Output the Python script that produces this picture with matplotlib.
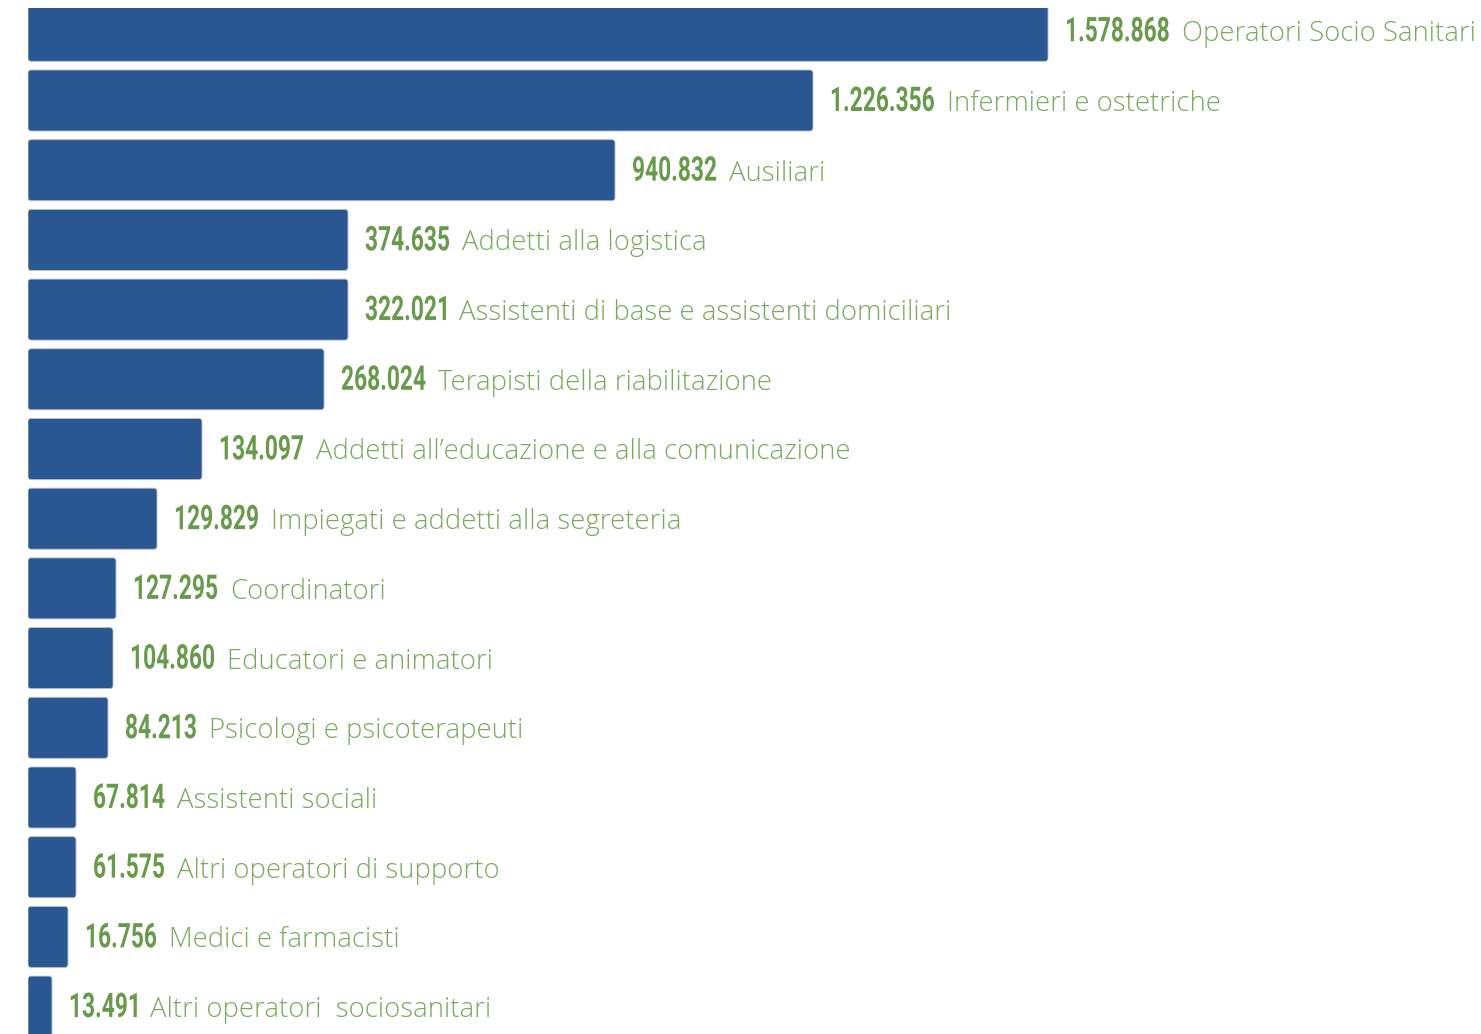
import matplotlib
matplotlib.use('Agg')
import matplotlib.pyplot as plt
from matplotlib.patches import FancyBboxPatch, PathPatch
from matplotlib.textpath import TextPath
from matplotlib.font_manager import FontProperties
from matplotlib.transforms import Affine2D, offset_copy

# values shown in the labels
valori = ['1.578.868', '1.226.356', '940.832', '374.635', '322.021', '268.024',
          '134.097', '129.829', '127.295', '104.860', '84.213', '67.814',
          '61.575', '16.756', '13.491']
profili = ['Operatori Socio Sanitari', 'Infermieri e ostetriche', 'Ausiliari',
           'Addetti alla logistica', 'Assistenti di base e assistenti domiciliari',
           'Terapisti della riabilitazione',
           'Addetti all\u2019educazione e alla comunicazione',
           'Impiegati e addetti alla segreteria', 'Coordinatori',
           'Educatori e animatori', 'Psicologi e psicoterapeuti',
           'Assistenti sociali', 'Altri operatori di supporto',
           'Medici e farmacisti', 'Altri operatori  sociosanitari']
# bar length as drawn in the infographic (thousands, not to scale)
lunghezza = [1578.9, 1215.1, 908.6, 495.3, 495.3, 458.2, 269.3, 199.7,
             136.2, 131.6, 123.8, 74.3, 74.3, 61.9, 37.1]

blu = '#2a5791'
verde_num = '#679a4b'
verde_txt = '#79aa5e'

W, H = 1481, 1034
fig = plt.figure(figsize=(W / 100, H / 100), dpi=100)
ax = fig.add_axes([28 / W, 0, 1 - 28 / W, (H - 8) / H])
ax.set_xlim(0, 1453 * 1578.868 / 1020)
ax.set_ylim((H - 30.8) / 69.7, (8 - 30.8) / 69.7)
ax.axis('off')

ypos = list(range(len(valori)))
bars = ax.barh(ypos, lunghezza, height=0.875, color=blu)

# swap rectangles for slightly rounded ones
asp = (1 / 69.7) / (1578.868 / 1020)
for r in bars:
    p = FancyBboxPatch((r.get_x(), r.get_y()), r.get_width(), r.get_height(),
                       boxstyle='round,pad=0,rounding_size=5', mutation_aspect=asp,
                       facecolor=blu, edgecolor='#b8bec8', linewidth=0.6)
    ax.add_patch(p)
    r.set_visible(False)

# condensed bold numbers: squeeze a text path horizontally
fp_num = FontProperties(family=['Roboto', 'DejaVu Sans'], weight='bold')
sx = 0.67
for i in ypos:
    x0, y0 = ax.transData.transform((lunghezza[i], i + 0.15))
    tp = TextPath((0, 0), valori[i], size=34, prop=fp_num)
    tr = Affine2D().scale(sx, 1).translate(x0 + 17, y0)
    fig.patches.append(PathPatch(tp, transform=tr, facecolor=verde_num,
                                 edgecolor='none', figure=fig))
    ext = tp.get_extents()
    wnum = ext.x1 * sx
    ax.text(lunghezza[i], i + 0.15, profili[i],
            transform=offset_copy(ax.transData, fig=fig, x=17 + wnum + 13, y=0, units='dots'),
            family=['Open Sans', 'DejaVu Sans'], weight='light',
            fontsize=19.8, color=verde_txt, va='baseline', ha='left', clip_on=False)

fig.savefig('out.png', dpi=100, facecolor='white')
